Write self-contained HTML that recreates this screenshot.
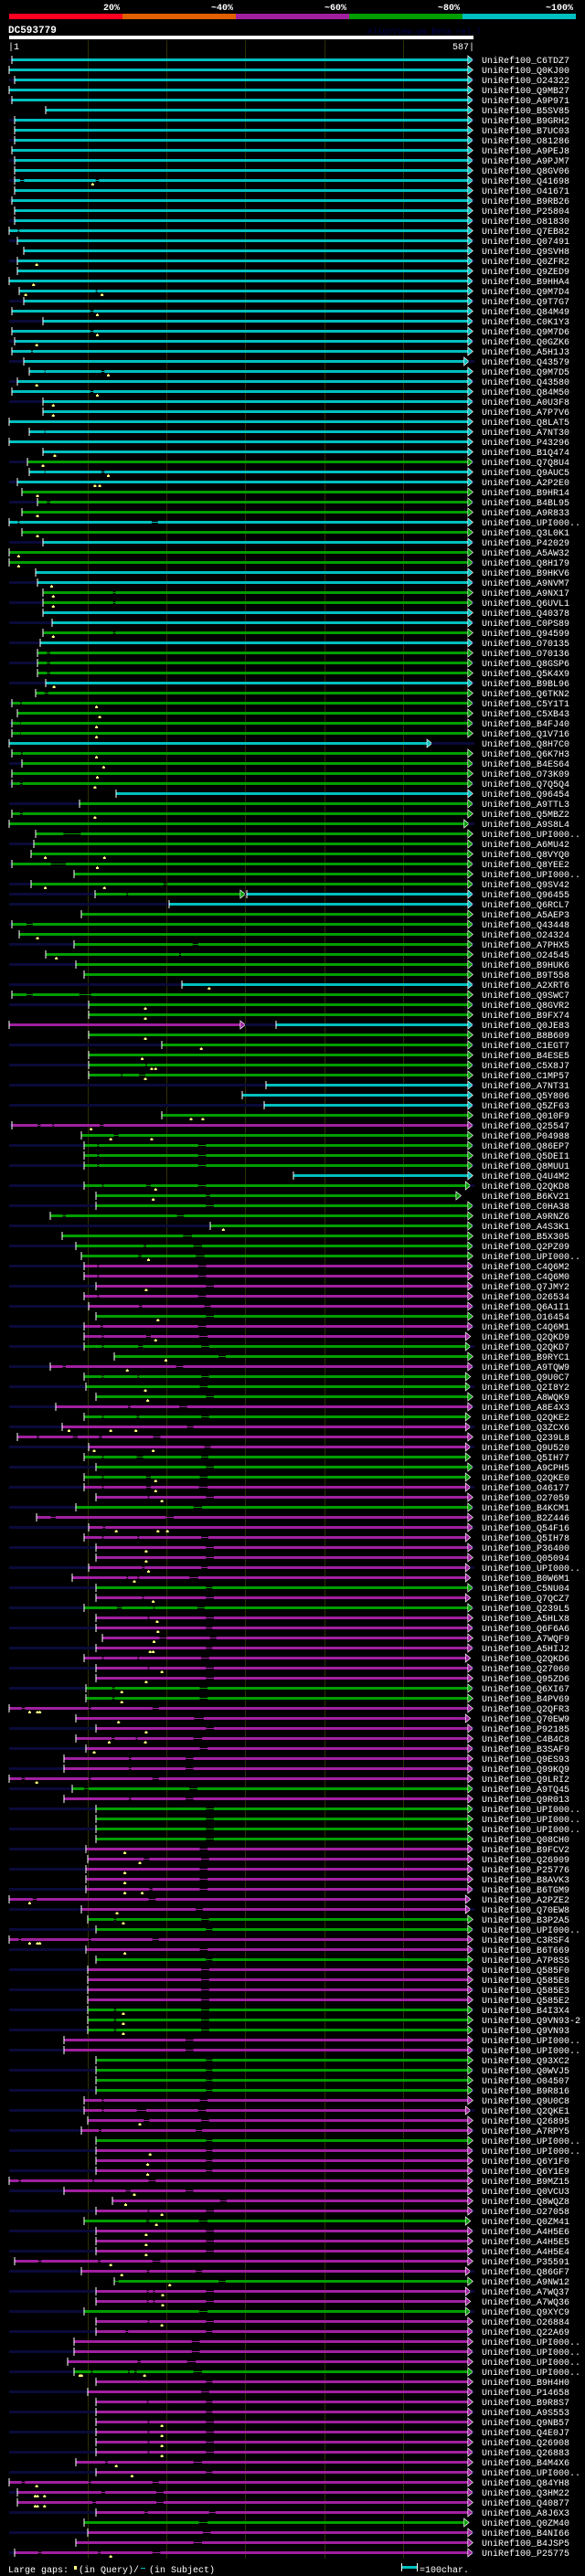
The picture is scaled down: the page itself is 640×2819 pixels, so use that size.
<!DOCTYPE html>
<html><head><meta charset="utf-8">
<style>
html,body{margin:0;padding:0;background:#000;}
#wrap{position:relative;width:640px;height:2819px;overflow:hidden;background:#000;}
svg text{font-family:"Liberation Mono",monospace;}
</style></head>
<body>
<div id="wrap">
<svg id="chart" width="640" height="2819" viewBox="0 0 640 2819" xmlns="http://www.w3.org/2000/svg">
  <g>
    <text x="122" y="11" fill="#fff" font-size="10" font-weight="bold" text-anchor="middle">20%</text>
    <text x="243" y="11" fill="#fff" font-size="10" font-weight="bold" text-anchor="middle">~40%</text>
    <text x="367" y="11" fill="#fff" font-size="10" font-weight="bold" text-anchor="middle">~60%</text>
    <text x="491" y="11" fill="#fff" font-size="10" font-weight="bold" text-anchor="middle">~80%</text>
    <text x="612" y="11" fill="#fff" font-size="10" font-weight="bold" text-anchor="middle">~100%</text>
    <rect x="10" y="15" width="124" height="6" fill="#ff0020"/>
    <rect x="134" y="15" width="124" height="6" fill="#e06000"/>
    <rect x="258" y="15" width="124" height="6" fill="#a020a0"/>
    <rect x="382" y="15" width="124" height="6" fill="#009e00"/>
    <rect x="506" y="15" width="124" height="6" fill="#00c0c0"/>
  </g>
  <text x="9" y="36" fill="#fff" font-size="11" font-weight="bold">DC593779</text>
  <text x="402" y="37" fill="#000050" font-size="9">AlignView.pm Beta rel.7</text>
  <rect x="10" y="39" width="508" height="4" fill="#fff"/>
  <text x="9" y="54" fill="#fff" font-size="10">|1</text>
  <text x="519" y="54" fill="#fff" font-size="10" text-anchor="end">587|</text>
  <g id="grid"></g>
  <g id="rows"></g>
  <g>
    <text x="9" y="2815" fill="#fff" font-size="10">Large gaps:</text>
    <rect x="81" y="2808" width="3" height="4" fill="#ffff80"/>
    <text x="86" y="2815" fill="#fff" font-size="10">(in Query)/</text>
    <rect x="154" y="2810" width="5" height="1" fill="#00c0c0"/>
    <text x="163" y="2815" fill="#fff" font-size="10">(in Subject)</text>
    <rect x="439" y="2805" width="1" height="9" fill="#fff"/>
    <rect x="440" y="2808" width="16" height="3" fill="#00c0c0"/>
    <rect x="456" y="2805" width="1" height="9" fill="#fff"/>
    <text x="459" y="2815" fill="#fff" font-size="10">=100char.</text>
  </g>
</svg>
</div>
<script>
const labels = ["C6TDZ7","Q0KJ00","O24322","Q9MB27","A9P971","B5SV85","B9GRH2","B7UC03","O81286","A9PEJ8","A9PJM7","Q8GV06","Q41698","O41671","B9RB26","P25804","O81830","Q7EB82","Q07491","Q9SVH8","Q0ZFR2","Q9ZED9","B9HHA4","Q9M7D4","Q9T7G7","Q84M49","C0K1Y3","Q9M7D6","Q0GZK6","A5H1J3","Q43579","Q9M7D5","Q43580","Q84M50","A0U3F8","A7P7V6","Q8LAT5","A7NT30","P43296","B1Q474","Q7Q8U4","Q9AUC5","A2P2E0","B9HR14","B4BL95","A9R833","UPI000..","Q3L0K1","P42029","A5AW32","Q8H179","B9HKV6","A9NVM7","A9NX17","Q6UVL1","Q40378","C0PS89","Q94599","O70135","O70136","Q8GSP6","Q5K4X9","B9BL96","Q6TKN2","C5Y1T1","C5XB43","B4FJ40","Q1V716","Q8H7C0","Q6K7H3","B4ES64","O73K09","Q7Q5Q4","Q96454","A9TTL3","Q5MBZ2","A9S8L4","UPI000..","A6MU42","Q8VYQ0","Q8YEE2","UPI000..","Q9SV42",
"Q96455","Q6RCL7","A5AEP3","Q43448","O24324","A7PHX5","O24545","B9HUK6","B9T558","A2XRT6","Q9SWC7","Q8GVR2","B9FX74","Q0JE83","B8B609","C1EGT7","B4ESE5","C5X8J7","C1MP57","A7NT31","Q5Y806","Q5ZF63","Q010F9","Q25547","P04988","Q86EP7","Q5DEI1","Q8MUU1","Q4U4M2","Q2QKD8","B6KV21","C0HA38","A9RNZ6",
"A4S3K1","B5X305","Q2PZ09","UPI000..","C4Q6M2","C4Q6M0","Q7JMY2","O26534","Q6A1I1","O16454","C4Q6M1","Q2QKD9","Q2QKD7","B9RYC1","A9TQW9","Q9U0C7","Q2I8Y2","A8WQK9","A8E4X3","Q2QKE2","Q3ZCX6","Q239L8","Q9U520","Q5IH77","A9CPH5","Q2QKE0","O46177","O27059","B4KCM1","B2Z446","Q54F16","Q5IH78","P36400","Q05094",
"UPI000..","B0W6M1","C5NU04","Q7QCZ7","Q239L5","A5HLX8","Q6F6A6","A7WQF9","A5HIJ2","Q2QKD6","Q27060","Q95ZD6","Q6XI67","B4PV69","Q2QFR3","Q70EW9","P92185","C4B4C8","B3SAF9","Q9ES93","Q99KQ9","Q9LRI2","A9TQ45","Q9R013","UPI000..","UPI000..","UPI000..","Q08CH0","B9FCV2","Q26909","P25776","B8AVK3","B6TGM9",
"A2PZE2","Q70EW8","B3P2A5","UPI000..","C3RSF4","B6T669","A7P8S5","Q585F0","Q585E8","Q585E3","Q585E2","B4I3X4","Q9VN93-2","Q9VN93","UPI000..","UPI000..","Q93XC2","Q0WVJ5","O04507","B9R816","Q9U0C8","Q2QKE1","Q26895","A7RPY5","UPI000..","UPI000..","Q6Y1F0","Q6Y1E9","B9MZ15","Q0VCU3","Q8WQZ8","O27058","Q0ZM41",
"A4H5E6","A4H5E5","A4H5E4","P35591","Q86GF7","A9NW12","A7WQ37","A7WQ36","Q9XYC9","O26884","Q22A69","UPI000..","UPI000..","UPI000..","UPI000..","B9H4H0","P14658","B9R8S7","A9S553","Q9NB57","Q4E0J7","Q26908","Q26883","B4M4X6",
"UPI000..","Q84YH8","Q3HM22","Q40877","A8J6X3","Q0ZM40","B4NI66","B4JSP5","P25775"];

const colors = ("cccccccccc"+"cccccccccc"+"cccccccccc"+"cccccccccc"+
"gccgggcgcg"+"gccggccgcg"+"ggcgggggcg"+"gggcgggggg"+"ggg"+
"gcgggggggc"+"gggmgggggc"+"ccgmggggcg"+"ggg"+
"ggggmmmmmg"+"mmggmgggmg"+"mmmgggmmgm"+"mmmm"+
"mmgmgmmmmm"+"mmggmmmmmm"+"mmgmggggmm"+"mmm"+
"mmggmmgmmm"+"mgggmmgggg"+"mmmmgmmmmm"+"mmg"+
"mmmmmgmmgm"+"mmmmgmmmmm"+"mmmm"+
"mmmmmgmmm").split("");

const starts = [5,1,8,1,5,47,8,8,8,5,8,8,8,8,5,8,8,1,11,20,11,11,1,14,20,5,44,5,8,5,20,26,11,5,44,44,1,26,1,44,24,26,11,17,37,17,1,17,44,1,1,35,37,44,44,44,56,44,41,37,37,37,47,35,5,11,5,5,1,5,17,5,5,137,90,5,1,35,32,29,5,83,29,
110,204,93,5,14,83,47,86,96,220,5,102,102,1,102,195,102,102,102,327,297,325,195,5,93,96,96,96,362,96,111,111,53,
256,68,86,93,96,96,111,96,102,111,96,96,96,134,53,96,98,111,60,96,68,11,102,96,111,96,96,111,86,36,102,96,111,111,
102,81,111,111,96,111,111,119,111,96,111,111,98,98,1,86,111,86,98,71,71,1,81,71,111,111,111,111,98,101,98,98,98,
1,93,101,111,1,98,111,101,101,101,101,101,101,101,71,71,111,111,111,111,96,96,101,93,111,111,111,111,1,71,132,111,96,
111,111,111,8,93,134,111,111,96,111,111,83,83,75,83,111,101,111,111,111,111,111,111,86,
111,1,11,11,111,96,101,86,8];

const ends = {30:582,68:535,76:582,83:298,96:298,112:584,113:572,127:584,128:584,131:584,132:584,135:584,136:584,138:584,139:584,141:584,142:584,147:584,150:584,151:584,153:584,159:584,165:584,183:584,184:584,204:584,215:584,220:584,222:584,223:584,224:584,245:582};

// 0 = no subject overhang, 1 = overhang both sides, 2 = right side only
const overhang = [1,0,1,0,1,0,1,0,1,0, 1,0,1,0,1,0,1,0,1,0, 1,0,1,0,1,0,1,0,1,0, 1,0,1,0,1,0,0,0,0,0,
1,0,1,0,1,0,0,0,1,0, 1,0,1,0,1,0,1,0,1,0, 1,0,1,0,1,0,1,0,2,0, 1,0,1,0,1,0,1,0,1,0, 1,0,1,
1,1,0,1,0,1,0,1,0,1, 0,1,0,2,0,1,0,1,0,1, 0,1,0,1,0,1,0,1,0,1, 0,1,0,
1,0,1,0,1,0,1,0,1,0, 1,0,1,0,1,0,1,0,1,0, 1,0,1,0,1,0,1,0,1,0, 1,0,1,0,
1,0,1,0,1,0,1,0,1,0, 1,0,1,0,0,0,1,0,1,0, 1,0,1,0,1,0,1,0,1,0, 1,0,1,
0,1,0,1,0,1,0,1,0,1, 0,1,0,1,0,1,0,1,0,1, 0,1,0,1,0,1,0,1,0,1, 0,1,0,
1,0,1,0,1,0,1,0,1,0, 1,0,1,0,1,0,1,0,1,0, 1,0,1,0,
1,0,1,0,1,0,1,0,1];

const gaps = {12:[15,20,111,115],17:[12,14],23:[111,113],25:[104,108],27:[104,108],29:[29,31],31:[46,47,118,122],33:[104,108],37:[46,47],41:[46,47,118,122],44:[49,53],46:[12,14,182,190],53:[133,136],54:[133,136],57:[133,136],59:[49,53],60:[49,53],61:[49,53],63:[46,51],64:[15,17],66:[15,16],67:[15,16],69:[16,18],72:[15,18],75:[15,18],77:[70,92],80:[54,73],82:[197,202],
83:[150,152],86:[23,31],88:[234,241],89:[217,219],93:[23,31,90,105],100:[174,176],101:[143,145,166,174],106:[37,41,56,58,116,121],107:[134,140],108:[113,115,241,251],109:[113,115,241,251],110:[113,115,241,251],112:[119,121,175,181,241,251],113:[251,256],114:[251,261],115:[69,73,214,223],
117:[222,233],118:[172,175,235,246],119:[165,169,238,249],120:[113,115,241,251],121:[113,115,241,251],122:[251,261],123:[113,115,241,251],124:[166,170,249,257],125:[251,261],126:[117,120,241,251],127:[119,121,175,181,242,253],128:[119,121,165,171,245,255],129:[267,276],130:[69,73,213,222],131:[119,121,164,166,245,255],132:[243,253],133:[251,261],134:[152,155,217,227],135:[119,121,163,166,245,255],136:[227,235],137:[36,39,82,88,115,119,184,193],138:[249,257],139:[119,121,163,171,245,254],140:[251,261],141:[119,121,175,181,243,253],142:[119,121,175,181,242,253],143:[177,179,251,261],144:[235,246],145:[54,60,200,210],146:[120,123],147:[119,121,164,166,245,254],148:[251,261],149:[251,261],
150:[170,173,245,253],151:[150,152,164,166,230,241],152:[251,259],153:[170,172,251,261],154:[138,144,184,186,240,249],155:[177,179,251,261],156:[251,259],157:[192,201,256,264],158:[251,259],159:[119,121,164,166,245,255],160:[177,179,251,261],161:[251,261],162:[132,135,243,253],163:[132,135,243,253],164:[17,21,102,105,183,191],165:[236,248],166:[251,261],167:[131,135,162,164,235,246],168:[243,253],169:[153,156,225,235],170:[153,156,225,235],171:[17,21,102,105,183,191],172:[96,102,230,240],173:[153,156,225,235],174:[251,261],175:[251,261],176:[251,261],177:[251,261],178:[243,253],179:[172,179,245,255],180:[243,253],181:[243,253],182:[179,183,243,253],
183:[31,36,178,187],184:[238,247],185:[134,137,245,255],186:[251,259],187:[13,16,102,105,183,191],188:[243,253],189:[251,259],190:[245,255],191:[245,255],192:[245,255],193:[245,255],194:[134,137,245,255],195:[134,137,245,255],196:[134,137,245,255],197:[225,235],198:[225,235],199:[251,259],200:[251,259],201:[251,259],202:[251,259],203:[119,121,243,253],204:[119,121,163,175,241,251],205:[172,179,245,255],206:[115,118,238,246],207:[251,259],208:[251,259],209:[251,259],210:[251,259],211:[13,16,107,109,178,187],212:[149,155,225,235],213:[269,277],214:[177,179,251,261],215:[175,179,242,253],
216:[251,261],217:[251,261],218:[251,261],219:[38,42,114,117,183,193],220:[176,179,238,246],221:[136,140,267,276],222:[176,178,184,186,251,261],223:[176,178,184,186,251,261],224:[242,253],225:[177,179,251,261],226:[149,152,251,259],227:[233,243],228:[233,243],229:[164,168,227,238],230:[105,107,152,154,160,163,235,246],231:[251,259],232:[245,255],233:[176,178,251,259],234:[251,259],235:[177,179,251,261],236:[177,179,251,261],237:[177,179,251,261],238:[177,179,251,261],239:[123,126,235,246],
240:[251,259],241:[17,21,102,105,183,191],242:[118,123,188,197],243:[107,111,188,197],244:[173,177,255,263],245:[242,253],246:[247,257],247:[235,246],248:[38,42,114,117,183,193]};

const marks = {12:[107],20:[36],22:[32],23:[22,119],25:[113],27:[113],28:[36],31:[127],32:[36],33:[113],34:[57],35:[57],39:[59],40:[44],41:[127],42:[110,116],43:[37],45:[37],47:[37],49:[13],50:[13],52:[55],53:[57],54:[57],57:[57],62:[58],64:[112],65:[116],66:[112],67:[112],69:[112],70:[121],71:[113],72:[110],75:[110],79:[47,122],80:[113],82:[47,122],
87:[37],89:[61],92:[255],94:[174],95:[174],97:[174],98:[245],99:[170],100:[182,187],101:[174],105:[232,247],106:[105],107:[130,182],112:[187],113:[184],116:[273],119:[178],122:[175],125:[190],127:[187],129:[200],130:[151],132:[174],133:[177],136:[77,130,162],138:[109,184],141:[187],142:[187],143:[195],146:[137,190,202],148:[175],149:[175],
150:[178],151:[160],153:[184],155:[189],156:[190],157:[185],158:[180,184],160:[195],161:[175],162:[144],163:[144],164:[27,37,40],165:[140],166:[175],167:[128,174],168:[109],171:[36],178:[148],179:[167],180:[148],181:[148],182:[148,170],183:[27],184:[138],185:[146],187:[27,37,40],188:[148],194:[146],195:[146],196:[146],205:[167],208:[180],209:[177],210:[177],212:[160],213:[149],214:[195],215:[188],
216:[175],217:[175],218:[175],219:[130],220:[144],221:[205],222:[196],223:[196],225:[195],230:[91,93,173],235:[195],236:[195],237:[195],238:[195],239:[137],240:[157],241:[36],242:[34,37,46],243:[34,37,46],248:[130]};

// second segment (different identity class) for split hits
const seg2Starts = {83:303,96:340};
const seg2Colors = {83:"c",96:"c"};

const gridResidues = [101,201,301,401,501];

const QLEN = 587;
const X0 = 10, SCALE = 0.8615;
function xq(q){ return X0 + (q-1)*SCALE; }
function rowY(i){ return 65 + 11*i; }
const COL = {c:"#00c0c0", g:"#009e00", m:"#a020a0"};
const NAVY = "#0a0a3a";
const NS = "http://www.w3.org/2000/svg";
function mk(tag, attrs, parent){
  const el = document.createElementNS(NS, tag);
  for (const k in attrs) el.setAttribute(k, attrs[k]);
  parent.appendChild(el);
  return el;
}

const grid = document.getElementById('grid');
gridResidues.forEach(function(q){
  const gl = mk('rect', {x: Math.round(xq(q)), y: 44, width: 1, height: 2756, fill: "#2e2e00"}, grid);
  
  
});

const rowsG = document.getElementById('rows');
function drawSeg(g, cy, s, e, col, gp){
  let cuts = [s];
  const gg = gp || [];
  for (let k=0;k<gg.length;k+=2){ cuts.push(gg[k]); cuts.push(gg[k+1]); }
  const xe = xq(e) - 3;
  cuts.push(null);
  for (let k=0;k<cuts.length-1;k+=2){
    const a = xq(cuts[k]);
    const b = cuts[k+1]===null ? xe : xq(cuts[k+1]);
    const bar = mk('rect', {x:a, y:cy-1, width:Math.max(0,b-a), height:3, fill:col}, g);
    
    
  }
  for (let k=0;k<gg.length;k+=2){
    const a = xq(gg[k]), b = xq(gg[k+1]);
    const ln = mk('rect', {x:a, y:cy, width:b-a, height:1, fill:col}, g);
    
    
  }
  const tick = mk('rect', {x:Math.round(xq(s))-0.5, y:cy-4, width:1, height:9, fill:"#fff"}, g);
  
  
  const tri = mk('polygon', {points:(xe)+","+(cy-4)+" "+(xe)+","+(cy+5)+" "+(xe+5.5)+","+(cy+0.5), fill:col, stroke:"#fff", "stroke-width":0.7}, g);
  
  
  return xe;
}

for (let i=0;i<labels.length;i++){
  const cy = rowY(i);
  const g = mk('g', {}, rowsG);
  
  
  const col = COL[colors[i]] || COL.m;
  const s = starts[i];
  const e = ends[i] || QLEN;
  const ov = overhang[i];
  if (ov===1 && s>1){
    const l = mk('rect', {x:X0, y:cy-1, width:xq(s)-X0, height:3, fill:NAVY}, g);
    
    
  }
  let xe = drawSeg(g, cy, s, e, col, gaps[i]);
  if (seg2Starts[i]){
    const s2 = seg2Starts[i];
    const betweenStart = xe + 5;
    if (xq(s2) > betweenStart){
      const nv = mk('rect', {x:betweenStart, y:cy-1, width:xq(s2)-betweenStart, height:3, fill:NAVY}, g);
      
      
    }
    xe = drawSeg(g, cy, s2, QLEN, COL[seg2Colors[i]], null);
  }
  if (ov>=1){
    const r = mk('rect', {x:xe+5, y:cy-1, width:Math.max(0,519-(xe+5)), height:3, fill:NAVY}, g);
    
    
  }
  (marks[i]||[]).forEach(function(q){
    const mx = xq(q);
    const st = mk('rect', {x:mx-0.5, y:cy+3, width:1, height:2, fill:"#ffff80"}, g);
    
    
    const bl = mk('rect', {x:mx-1.5, y:cy+4, width:3, height:2, fill:"#ffff80"}, g);
    
    
  });
  const t = mk('text', {x:527, y:cy+4, fill:"#fff", "font-size":10}, g);
  t.textContent = "UniRef100_" + labels[i];
  
  
}
</script>
</body></html>
